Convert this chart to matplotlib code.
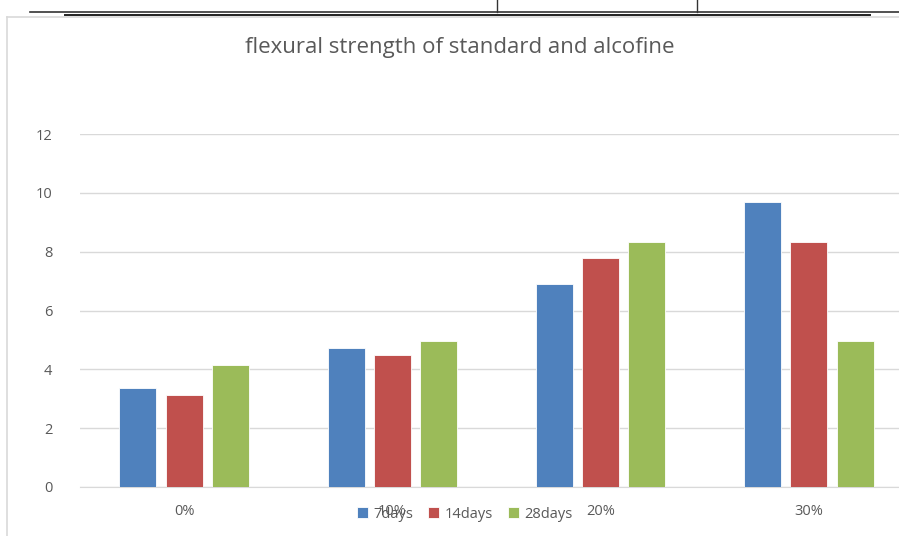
import numpy as np
import matplotlib.pyplot as plt
from matplotlib.lines import Line2D

# values
categories = ['0%', '10%', '20%', '30%']
series_names = ['7days', '14days', '28days']
days7 = [3.37, 4.74, 6.90, 9.70]
days14 = [3.13, 4.49, 7.78, 8.33]
days28 = [4.15, 4.98, 8.33, 4.98]
colors = ['#4f81bd', '#c0504d', '#9bbb59']
yticks = [0, 2, 4, 6, 8, 10, 12]

plt.rcParams['font.family'] = ['Open Sans', 'DejaVu Sans']
txt = '#595959'

fig = plt.figure(figsize=(8.99, 5.36), dpi=100)

# bits of the document around the chart (table border + chart frame)
W, H = 899, 536
def px(x, y):
    return x / W, 1 - y / H
for (x0, y0, x1, y1, c, lw) in [(30, 12, 899, 12, '#333333', 1.2),
                                 (65, 15, 870, 15, '#222222', 1.4),
                                 (497, 0, 497, 12, '#333333', 1.0),
                                 (697, 0, 697, 12, '#333333', 1.0),
                                 (7, 17, 899, 17, '#d9d9d9', 1.2),
                                 (7, 17, 7, 536, '#d9d9d9', 1.2)]:
    a, b = px(x0, y0)
    c2, d = px(x1, y1)
    fig.add_artist(Line2D([a, c2], [b, d], color=c, lw=lw))

ax = fig.add_axes([80 / W, 1 - 487 / H, 833 / W, (487 - 134) / H])
x = np.arange(len(categories))
step = 0.222
width = 0.178
for i, (vals, name) in enumerate(zip([days7, days14, days28], series_names)):
    ax.bar(x + (i - 1) * step, vals, width, color=colors[i], label=name,
           edgecolor='white', linewidth=0.6, zorder=3)

ax.set_xlim(-0.5, 3.5)
ax.set_ylim(0, 12)
ax.set_yticks(yticks)
ax.set_xticks(x)
ax.set_xticklabels(categories)
ax.grid(axis='y', color='#d9d9d9', lw=1, zorder=0)
for s in ['top', 'right', 'left']:
    ax.spines[s].set_visible(False)
ax.spines['bottom'].set_color('#d9d9d9')
ax.tick_params(axis='both', length=0, colors=txt, labelsize=10.5)
ax.tick_params(axis='y', pad=20)
ax.tick_params(axis='x', pad=12)

fig.text(460 / W, 1 - 48 / H, 'flexural strength of standard and alcofine',
         ha='center', va='center', fontsize=16, color=txt)

leg = fig.legend(loc='center', bbox_to_anchor=(465 / W, 1 - 514 / H), ncol=3,
                 frameon=False, fontsize=10.5, handlelength=0.75, handleheight=0.75,
                 handletextpad=0.4, columnspacing=1.0)
for t in leg.get_texts():
    t.set_color(txt)

fig.savefig('out.png', dpi=100)
